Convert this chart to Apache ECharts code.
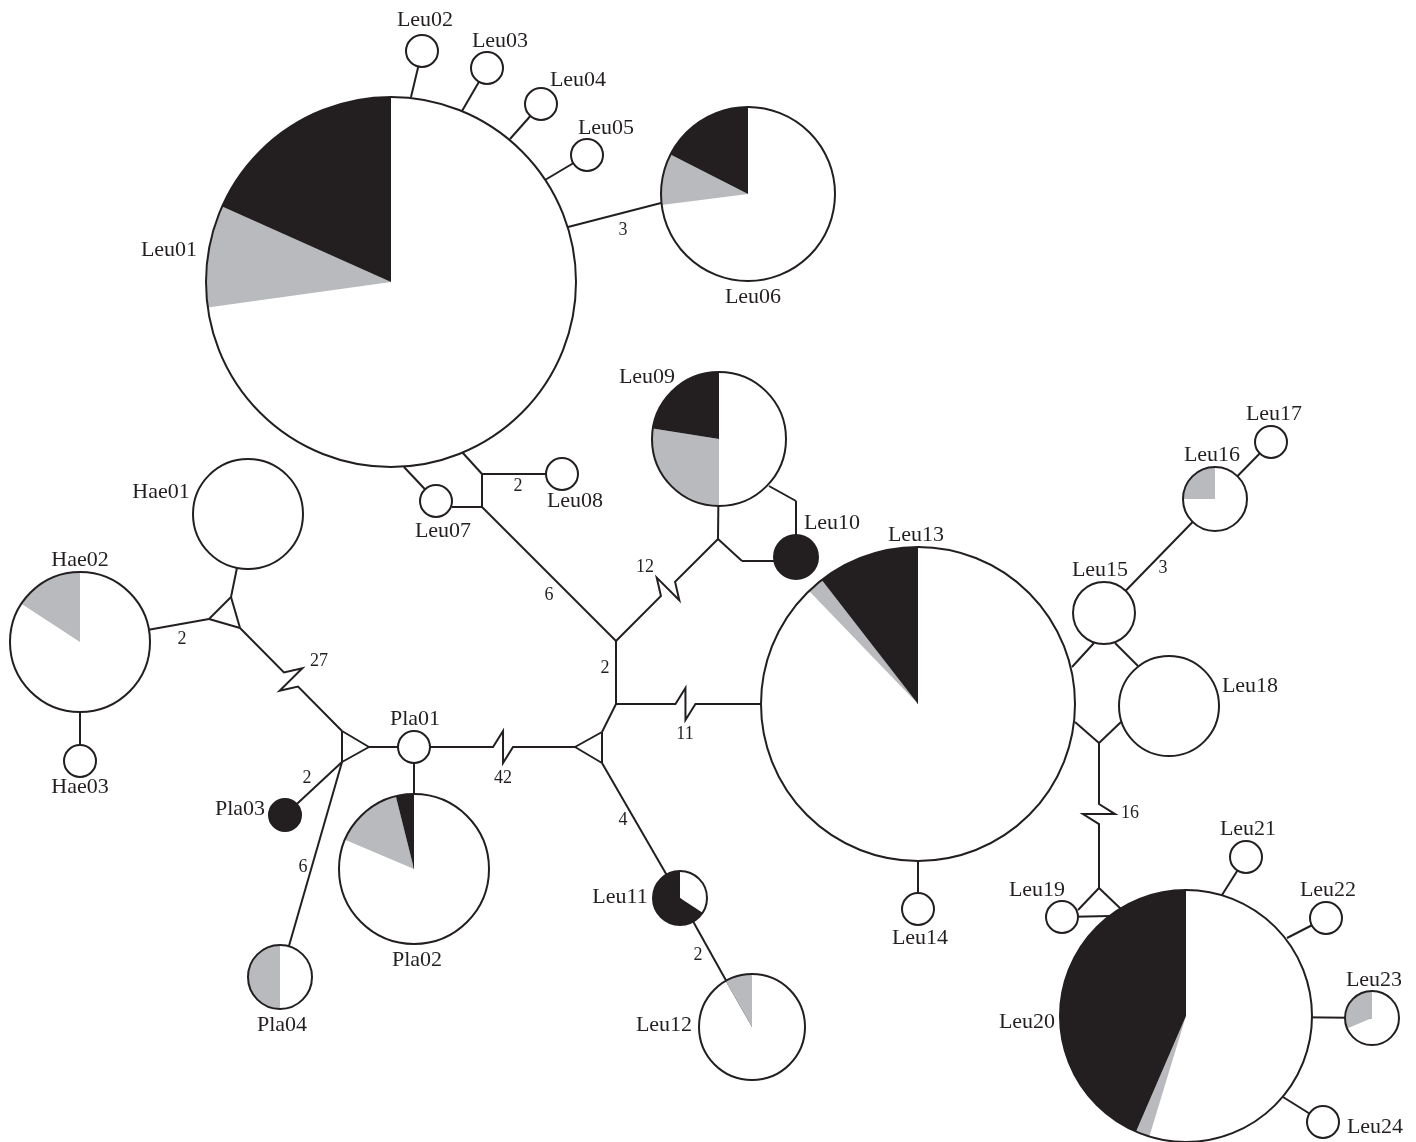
<!DOCTYPE html>
<html>
<head>
<meta charset="utf-8">
<title>Haplotype network</title>
<script src="https://cdn.jsdelivr.net/npm/echarts@6/dist/echarts.min.js"></script>
<style>
  html, body { margin: 0; padding: 0; background: #fff; }
  #chart { width: 1416px; height: 1142px; }
</style>
</head>
<body>
<div id="chart"></div>
<script>
// haplotypes: centre in figure units, circle radius and the share of each group (white, grey, black)
const haplotypes = ['Leu01', 'Leu02', 'Leu03', 'Leu04', 'Leu05', 'Leu06', 'Leu07', 'Leu08', 'Leu09', 'Leu10',
  'Leu11', 'Leu12', 'Leu13', 'Leu14', 'Leu15', 'Leu16', 'Leu17', 'Leu18', 'Leu19', 'Leu20',
  'Leu21', 'Leu22', 'Leu23', 'Leu24', 'Hae01', 'Hae02', 'Hae03', 'Pla01', 'Pla02', 'Pla03', 'Pla04']
const hapX = [391, 422, 487, 541, 587, 748, 436, 562, 719, 796,
  680, 752, 918, 918, 1104, 1215, 1271, 1169, 1062, 1186,
  1246, 1326, 1372, 1323, 248, 80, 80, 414, 414, 285, 280]
const hapY = [282, 51, 68, 104, 155, 194, 501, 474, 439, 557,
  898, 1027, 704, 909, 613, 499, 442, 706, 917, 1016,
  857, 918, 1018, 1122, 514, 642, 761, 747, 869, 815, 977]
const hapRadius = [185, 16, 16, 16, 16, 87, 16, 16, 67, 22,
  27, 53, 157, 16, 31, 32, 16, 50, 16, 126,
  16, 16, 27, 16, 55, 70, 16, 16, 75, 16, 32]
const whiteShare = [0.728, 1, 1, 1, 1, 0.73, 1, 1, 0.5, 0,
  0.342, 0.917, 0.878, 1, 1, 0.75, 1, 1, 1, 0.547,
  1, 1, 0.686, 1, 1, 0.842, 1, 1, 0.814, 0, 0.5]
const grayShare = [0.089, 0, 0, 0, 0, 0.095, 0, 0, 0.275, 0,
  0, 0.083, 0.017, 0, 0, 0.25, 0, 0, 0, 0.018,
  0, 0, 0.314, 0, 0, 0.158, 0, 0, 0.147, 0, 0.5]
const blackShare = [0.183, 0, 0, 0, 0, 0.175, 0, 0, 0.225, 1,
  0.658, 0, 0.105, 0, 0, 0, 0, 0, 0, 0.435,
  0, 0, 0, 0, 0, 0, 0, 0, 0.039, 1, 0]

// unlabelled vertices: median vectors, bends and the points where a branch leaves a circle
const vertexNames = ['a02', 'a03', 'a04', 'a05', 'a06', 'b06', 'a07', 'a08', 'b07',
  'm1', 'm2', 'm3', 'm4', 'm5', 'k1', 'k2', 'a09', 'k3',
  'tr1', 'tr2', 'tr3', 'tp1', 'tp2', 'tp3', 'th1', 'th2', 'th3',
  'a13', 'b15', 'c15', 'a18', 'd13', 'm6', 'b18',
  'm7', 'b19', 'a20', 'c20', 'd20', 'e20', 'f20']
const vertexX = [411, 462, 510, 545, 568, 661, 404, 462, 452,
  482, 482, 616, 616, 718, 742, 774, 769, 796,
  602, 602, 575, 342, 342, 369, 231, 240, 209,
  1072, 1094, 1115, 1138, 1075, 1099, 1121,
  1099, 1078, 1122, 1110, 1222, 1287, 1283]
const vertexY = [97, 111, 139, 180, 227, 203, 467, 452, 507,
  474, 507, 641, 704, 539, 561, 561, 486, 501,
  732, 763, 747, 731, 762, 747, 597, 628, 619,
  667, 643, 643, 666, 722, 743, 722,
  888, 910, 910, 916, 895, 938, 1097]

// branches of the network
const branches = [
  ['a02', 'Leu02'], ['a03', 'Leu03'], ['a04', 'Leu04'], ['a05', 'Leu05'], ['a06', 'b06'],
  ['a07', 'Leu07'], ['a08', 'm1'], ['m1', 'Leu08'], ['m1', 'm2'], ['b07', 'm2'], ['m2', 'm3'],
  ['m3', 'm5'], ['m5', 'Leu09'], ['m5', 'k1'], ['k1', 'k2'], ['a09', 'k3'], ['k3', 'Leu10'],
  ['m3', 'm4'], ['m4', 'Leu13'], ['m4', 'tr1'], ['tr1', 'tr2'], ['tr2', 'tr3'], ['tr3', 'tr1'],
  ['Pla01', 'tr3'], ['tr2', 'Leu11'], ['Leu11', 'Leu12'], ['Pla01', 'Pla02'], ['Pla01', 'tp3'],
  ['tp1', 'tp2'], ['tp2', 'tp3'], ['tp3', 'tp1'], ['th2', 'tp1'], ['tp2', 'Pla03'], ['tp2', 'Pla04'],
  ['th1', 'th2'], ['th2', 'th3'], ['th3', 'th1'], ['th1', 'Hae01'], ['th3', 'Hae02'], ['Hae02', 'Hae03'],
  ['Leu13', 'Leu14'], ['a13', 'b15'], ['c15', 'a18'], ['d13', 'm6'], ['m6', 'b18'],
  ['Leu15', 'Leu16'], ['Leu16', 'Leu17'], ['m6', 'm7'], ['m7', 'b19'], ['m7', 'a20'],
  ['Leu19', 'c20'], ['d20', 'Leu21'], ['e20', 'Leu22'], ['Leu20', 'Leu23'], ['f20', 'Leu24'],
]

// long branches drawn with a break: [from, to, position of the break along the branch]
const breaks = [['m3', 'm5', 0.51], ['m4', 'Leu13', 0.23], ['Pla01', 'tr3', 0.553], ['th2', 'tp1', 0.5], ['m6', 'm7', 0.49]]

// mutation steps printed beside branches
const stepCounts = ['3', '2', '6', '12', '2', '11', '42', '4', '2', '27', '2', '2', '6', '3', '16']

// label layout (text centres)
const nameLabelPos = [[169, 250], [425, 20], [500, 41], [578, 80], [606, 128], [753, 297], [443, 531], [575, 501], [647, 377], [832, 523],
  [620, 897], [664, 1025], [916, 535], [920, 938], [1100, 570], [1212, 455], [1274, 414], [1250, 686], [1037, 890], [1027, 1022],
  [1248, 829], [1328, 890], [1374, 980], [1375, 1127], [161, 492], [80, 560], [80, 787], [415, 719], [417, 960], [240, 809], [282, 1025]]
const stepLabelPos = [[623, 230], [518, 486], [549, 595], [645, 567], [605, 668], [685, 734], [503, 778], [623, 820],
  [698, 955], [319, 661], [182, 639], [307, 778], [303, 867], [1163, 568], [1130, 813]]

const ink = '#231f20'
const sliceColors = ['#ffffff', '#b9babd', '#231f20']

const pointOf = (name) => {
  const h = haplotypes.indexOf(name)
  if (h >= 0) return [hapX[h], hapY[h]]
  const v = vertexNames.indexOf(name)
  return [vertexX[v], vertexY[v]]
}

const branchData = branches.map(([a, b]) => {
  const p = pointOf(a)
  const q = pointOf(b)
  const br = breaks.find((k) => k[0] === a && k[1] === b)
  return [p[0], p[1], q[0], q[1], br ? br[2] : -1]
})

const nodeData = haplotypes.map((name, i) => [hapX[i], hapY[i], hapRadius[i], whiteShare[i], grayShare[i], blackShare[i]])
const nameData = haplotypes.map((name, i) => [nameLabelPos[i][0], nameLabelPos[i][1], name])
const stepData = stepCounts.map((s, i) => [stepLabelPos[i][0], stepLabelPos[i][1], s])

const chart = echarts.init(document.getElementById('chart'))

const textSeries = (data, size, z) => ({
  type: 'custom',
  coordinateSystem: 'cartesian2d',
  data,
  z,
  silent: true,
  renderItem: (params, api) => {
    const c = api.coord([api.value(0), api.value(1)])
    return {
      type: 'text',
      x: c[0],
      y: c[1],
      style: {
        text: data[params.dataIndex][2],
        font: size + 'px "Liberation Serif", "Times New Roman", serif',
        fill: ink,
        align: 'center',
        verticalAlign: 'middle',
      },
    }
  },
})

const option = {
  backgroundColor: '#ffffff',
  animation: false,
  grid: { left: 0, right: 0, top: 0, bottom: 0 },
  xAxis: { type: 'value', min: 0, max: 1416, show: false },
  yAxis: { type: 'value', min: 0, max: 1142, inverse: true, show: false },
  series: [
    {
      type: 'custom',
      coordinateSystem: 'cartesian2d',
      data: branchData,
      z: 1,
      silent: true,
      renderItem: (params, api) => {
        const p = api.coord([api.value(0), api.value(1)])
        const q = api.coord([api.value(2), api.value(3)])
        const t = api.value(4)
        let points = [p, q]
        if (t > 0) {
          const len = Math.hypot(q[0] - p[0], q[1] - p[1])
          const d = [(q[0] - p[0]) / len, (q[1] - p[1]) / len]
          const n = [d[1], -d[0]]
          const m = [p[0] + (q[0] - p[0]) * t, p[1] + (q[1] - p[1]) * t]
          const s = 10
          const h = 16
          points = [
            p,
            [m[0] - d[0] * s, m[1] - d[1] * s],
            [m[0] + n[0] * h, m[1] + n[1] * h],
            [m[0] - n[0] * h, m[1] - n[1] * h],
            [m[0] + d[0] * s, m[1] + d[1] * s],
            q,
          ]
        }
        return {
          type: 'polyline',
          shape: { points },
          style: { fill: 'none', stroke: ink, lineWidth: 2, lineJoin: 'miter' },
        }
      },
    },
    {
      type: 'custom',
      coordinateSystem: 'cartesian2d',
      data: nodeData,
      z: 2,
      silent: true,
      renderItem: (params, api) => {
        const c = api.coord([api.value(0), api.value(1)])
        const r = api.size([api.value(2), 0])[0]
        const shares = [api.value(3), api.value(4), api.value(5)]
        const total = shares[0] + shares[1] + shares[2]
        const children = []
        let acc = 0
        shares.forEach((s, k) => {
          if (s <= 0) return
          const start = -Math.PI / 2 + (acc / total) * 2 * Math.PI
          acc += s
          const end = -Math.PI / 2 + (acc / total) * 2 * Math.PI
          children.push({
            type: 'sector',
            shape: { cx: c[0], cy: c[1], r, r0: 0, startAngle: start, endAngle: end, clockwise: true },
            style: { fill: sliceColors[k], stroke: 'none' },
          })
        })
        children.push({
          type: 'circle',
          shape: { cx: c[0], cy: c[1], r },
          style: { fill: 'none', stroke: ink, lineWidth: 2 },
        })
        return { type: 'group', children }
      },
    },
    textSeries(nameData, 22, 3),
    textSeries(stepData, 18, 3),
  ],
}

chart.setOption(option)
</script>
</body>
</html>
